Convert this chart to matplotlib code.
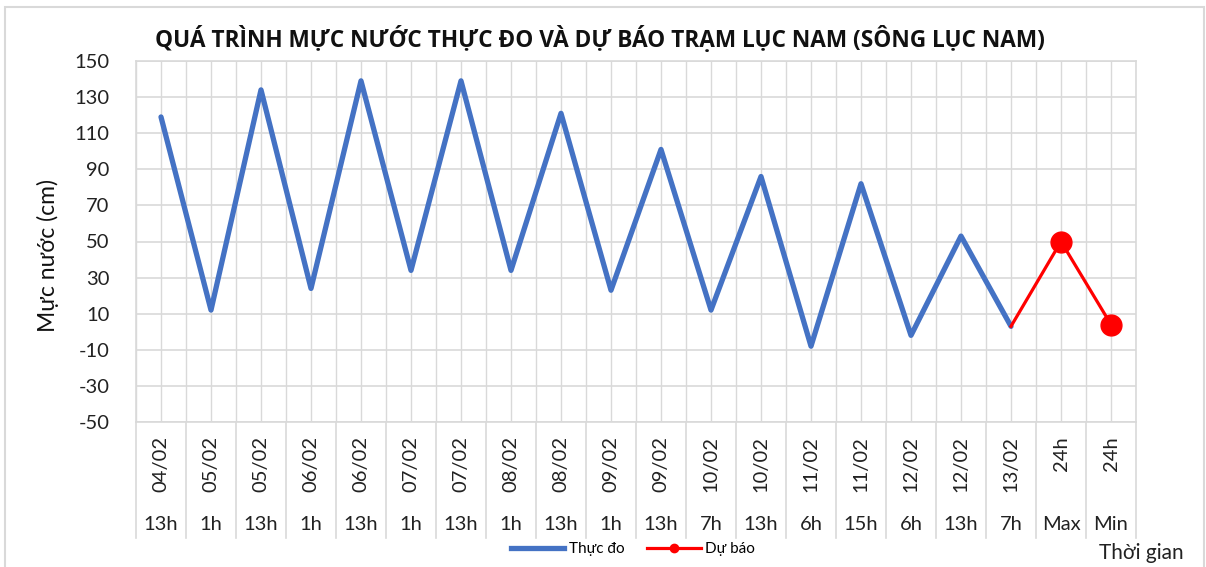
import matplotlib
matplotlib.use("Agg")
import matplotlib.pyplot as plt
import numpy as np
from matplotlib.lines import Line2D
from matplotlib.patches import Rectangle

plt.rcParams['font.family'] = ['Lato', 'DejaVu Sans']

# ---- data ----
dates = ["04/02", "05/02", "05/02", "06/02", "06/02", "07/02", "07/02", "08/02", "08/02",
         "09/02", "09/02", "10/02", "10/02", "11/02", "11/02", "12/02", "12/02", "13/02",
         "24h", "24h"]
hours = ["13h", "1h", "13h", "1h", "13h", "1h", "13h", "1h", "13h", "1h", "13h", "7h",
         "13h", "6h", "15h", "6h", "13h", "7h", "Max", "Min"]
observed = [119, 12, 134, 24, 139, 34, 139, 34, 121, 23, 101, 12, 86, -8, 82, -2, 53, 3]
forecast = [3, 50, 4]          # 13/02 7h (link), Max, Min
forecast_start = 17            # index of first forecast category
y_ticks = list(range(-50, 151, 20))

W, H = 1206, 567
fig = plt.figure(figsize=(W / 100, H / 100), dpi=100)
L, R, T, B = 136, 1136, 61, 422
ax = fig.add_axes([L / W, 1 - B / H, (R - L) / W, (B - T) / H])

n = len(hours)
x = np.arange(n)
xo = x[:len(observed)]
xf = x[forecast_start:forecast_start + len(forecast)]

grid_c = '#d9d9d9'
txt_c = '#222222'
ax.plot(xo, observed, color='#4472C4', lw=3.8, solid_joinstyle='round',
        solid_capstyle='round', zorder=3)
ax.plot(xf, forecast, color='#FF0000', lw=2.3, marker='o', markersize=15,
        markevery=[1, 2], zorder=4)

ax.set_xlim(-0.5, n - 0.5)
ax.set_ylim(-50, 150)
ax.set_yticks(y_ticks)
ax.set_yticklabels([str(v) for v in y_ticks], fontsize=14.5, color=txt_c)
ax.set_xticks(x)
ax.set_xticks(np.arange(-0.5, n, 1), minor=True)
ax.set_xticklabels([])
ax.tick_params(axis='both', which='both', length=0)
ax.tick_params(axis='y', pad=19)
ax.grid(True, which='both', axis='x', color=grid_c, lw=1.0, zorder=0)
ax.grid(True, which='major', axis='y', color=grid_c, lw=1.2, zorder=0)
for s in ['top', 'right', 'bottom', 'left']:
    ax.spines[s].set_color(grid_c)
    ax.spines[s].set_linewidth(1.2)

# multi-level category labels
ph = B - T
trans = ax.get_xaxis_transform()
sep_bottom = -(538 - B) / ph
for b in np.arange(-0.5, n, 1):
    ax.add_line(Line2D([b, b], [0, sep_bottom], transform=trans, color=grid_c,
                       lw=1.2, clip_on=False))
for i in range(n):
    ax.text(i, -(436 - B) / ph, dates[i], transform=trans, rotation=90,
            ha='center', va='top', fontsize=14.5, color=txt_c)
    ax.text(i, -(524 - B) / ph, hours[i], transform=trans, ha='center',
            va='center', fontsize=14.5, color=txt_c)

fig.text(48 / W, 1 - 256 / H, "Mực nước (cm)", rotation=90, ha='center', va='center',
         fontsize=16.5, color='#111111')

fig.text(600 / W, 1 - 39 / H, "QUÁ TRÌNH MỰC NƯỚC THỰC ĐO VÀ DỰ BÁO TRẠM LỤC NAM (SÔNG LỤC NAM)",
         ha='center', va='center', fontsize=16.3, fontweight='bold', color='#111111',
         family=['Open Sans', 'DejaVu Sans'])

fig.text(1184 / W, 1 - 553 / H, "Thời gian", ha='right', va='center',
         fontsize=15, color=txt_c)

handles = [Line2D([], [], color='#4472C4', lw=3.8),
           Line2D([], [], color='#FF0000', lw=2.3, marker='o', markersize=6)]
fig.legend(handles, ["Thực đo", "Dự báo"], loc='center', bbox_to_anchor=(633 / W, 1 - 549 / H),
           ncol=2, frameon=False, fontsize=11, handlelength=3.5, handletextpad=0.3,
           columnspacing=1.5)

fig.patches.append(Rectangle((5 / W, -0.1), (1204 - 5) / W, 1 - 7 / H + 0.1,
                             transform=fig.transFigure, fill=False,
                             edgecolor='#d9d9d9', lw=1.5))

fig.savefig("out.png", dpi=100, facecolor='white')
